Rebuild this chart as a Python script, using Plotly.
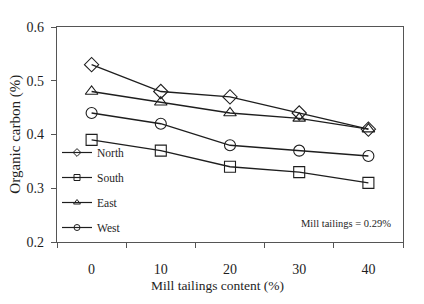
import plotly.graph_objects as go

categories = ["0", "10", "20", "30", "40"]
north = [0.53, 0.48, 0.47, 0.44, 0.41]
south = [0.39, 0.37, 0.34, 0.33, 0.31]
east = [0.48, 0.46, 0.44, 0.43, 0.41]
west = [0.44, 0.42, 0.38, 0.37, 0.36]
series_names = ["North", "South", "East", "West"]
symbols = ["diamond-open", "square-open", "triangle-up-open", "circle-open"]

FONT = "Liberation Serif"
INK = "#1e1e1e"
AX = "#555555"

fig = go.Figure()
for i, (name, vals) in enumerate(zip(series_names, [north, south, east, west])):
    fig.add_trace(go.Scatter(
        x=categories, y=vals, name=name, mode="lines+markers",
        showlegend=False,
        line=dict(color=INK, width=1.3),
        marker=dict(symbol=symbols[i], size=11, color=INK,
                    line=dict(width=1.1, color=INK)),
    ))
# legend-only entries with small markers (as in the reference legend)
for i, name in enumerate(series_names):
    fig.add_trace(go.Scatter(
        x=[None], y=[None], name=name, mode="lines+markers",
        legendgroup=name,
        line=dict(color=INK, width=1.2),
        marker=dict(symbol=symbols[i], size=6, color=INK,
                    line=dict(width=1, color=INK)),
    ))

fig.update_layout(
    width=408, height=288,
    margin=dict(l=49, r=13, t=15, b=54),
    paper_bgcolor="white", plot_bgcolor="white",
    font=dict(family=FONT, size=13, color=INK),
    showlegend=True,
    legend=dict(x=0.0, y=0.0, xanchor="left", yanchor="bottom",
                bgcolor="rgba(0,0,0,0)", font=dict(family=FONT, size=11.5),
                tracegroupgap=6, itemwidth=30),
    xaxis=dict(
        type="category", tickson="boundaries", range=[-0.5, 4.5],
        showline=True, linecolor=AX, linewidth=1.2, mirror=True,
        ticks="outside", ticklen=5, tickcolor=AX,
        showgrid=False, zeroline=False,
        ticklabelstandoff=14,
        tickfont=dict(family=FONT, size=14),
    ),
    yaxis=dict(
        range=[0.2, 0.6], tickvals=[0.2, 0.3, 0.4, 0.5, 0.6],
        ticktext=["0.2", "0.3", "0.4", "0.5", "0.6"],
        showline=True, linecolor=AX, linewidth=1.2, mirror=True,
        ticks="outside", ticklen=5, tickcolor=AX,
        showgrid=False, zeroline=False,
        ticklabelstandoff=4,
        tickfont=dict(family=FONT, size=14),
    ),
    annotations=[
        dict(text="Mill tailings = 0.29%", xref="paper", yref="paper",
             x=0.971, y=0.087, xanchor="right", yanchor="middle",
             showarrow=False, font=dict(family=FONT, size=10.5, color=INK)),
        dict(text="Mill tailings content (%)", xref="paper", yref="paper",
             x=0.465, y=-0.2, xanchor="center", yanchor="middle",
             showarrow=False, font=dict(family=FONT, size=13.5, color=INK)),
        dict(text="Organic carbon (%)", xref="paper", yref="paper",
             x=-0.121, y=0.5, xanchor="center", yanchor="middle", textangle=-90,
             showarrow=False, font=dict(family=FONT, size=15, color=INK)),
    ],
)

fig.write_html("out.html")
